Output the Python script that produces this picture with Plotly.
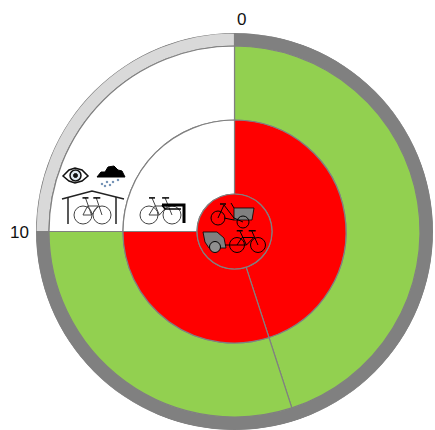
import plotly.graph_objects as go

W, H = 435, 430
CX, CY, R = 234.5, 231.5, 198.5

PERIOD = 40 / 3  # scale units for one full turn
segment_start = [0, 10, 0, 6, 10, 0, 6, 10, 0]
segment_end = [10, 40 / 3, 6, 10, 40 / 3, 6, 10, 40 / 3, 40 / 3]
ring_inner = [185.5, 185.5, 111.5, 111.5, 111.5, 37.5, 37.5, 37.5, 0]
ring_outer = [198.5, 198.5, 185.5, 185.5, 185.5, 111.5, 111.5, 111.5, 37.5]
segment_colors = ["#808080", "#D9D9D9", "#92D050", "#92D050", "#FFFFFF",
                  "#FF0000", "#FF0000", "#FFFFFF", "#FF0000"]
tick_values = [0, 10]
tick_labels = ["0", "10"]

deg = lambda u: u * 360 / PERIOD
theta = [deg((a + b) / 2) for a, b in zip(segment_start, segment_end)]
width = [deg(b - a) for a, b in zip(segment_start, segment_end)]
r = [o - i for i, o in zip(ring_inner, ring_outer)]

fig = go.Figure(go.Barpolar(
    theta=theta, width=width, r=r, base=ring_inner,
    marker=dict(color=segment_colors, line=dict(color="#808080", width=1.2)),
    hoverinfo="skip",
))

shapes = []
px = lambda x: x / W
py = lambda y: 1 - y / H


def path(points, color="black", w=1.0, fill=None, close=False):
    d = "M" + " L".join(f"{px(x):.5f},{py(y):.5f}" for x, y in points) + (" Z" if close else "")
    shapes.append(dict(type="path", xref="paper", yref="paper", path=d,
                       line=dict(color=color, width=w),
                       fillcolor=fill or "rgba(0,0,0,0)", layer="above"))


def circle(x, y, rad, color="black", w=1.0, fill=None):
    shapes.append(dict(type="circle", xref="paper", yref="paper",
                       x0=px(x - rad), x1=px(x + rad), y0=py(y + rad), y1=py(y - rad),
                       line=dict(color=color, width=w),
                       fillcolor=fill or "rgba(0,0,0,0)", layer="above"))


def bike(x0, x1, y, rad, color="#404040"):
    """Bicycle with its wheels centred at (x0, y) and (x1, y)."""
    d = x1 - x0
    circle(x0, y, rad, color=color, w=1)
    circle(x1, y, rad, color=color, w=1)
    seat = (x0 + 0.13 * d, y - 1.9 * rad)
    bar = (x0 + 0.70 * d, y - 1.9 * rad)
    b = (x0 + 0.45 * d, y)
    s = (x0 + 0.24 * d, y - 1.0 * rad)
    h = (x0 + 0.80 * d, y - 1.0 * rad)
    path([seat, b], color=color, w=1)
    path([(x0, y), s, h, b, (x0, y)], color=color, w=1)
    path([bar, (x1, y)], color=color, w=1)
    path([(seat[0] - 3, seat[1]), (seat[0] + 3, seat[1])], color="black", w=1.5)
    path([(bar[0] - 3, bar[1]), (bar[0] + 4, bar[1])], color="black", w=1.5)


# eye
path([(63, 176), (69, 170), (75, 168), (82, 170), (88, 176), (82, 181), (75, 183), (69, 181)],
     color="#111111", w=1.5, close=True, fill="#FFFFFF")
circle(75.5, 175.5, 5.5, color="#111111", w=1.5, fill="#DDE6EE")
circle(75.5, 175.5, 2, color="#111111", w=1, fill="#111111")

# cloud with rain
path([(97, 177), (101, 172), (105, 172), (108, 167), (114, 166), (118, 170), (122, 171), (125, 177)],
     color="black", w=1, fill="black", close=True)
for dx, dy in [(102, 184), (107, 182), (113, 182), (118, 180), (105, 186), (110, 185)]:
    circle(dx, dy, 0.9, color="#5A7FA8", w=0.5, fill="#5A7FA8")

# shelter with bicycle
path([(62, 199), (92, 191), (124, 199)], color="#222222", w=1.5)
path([(68, 197), (68, 224)], color="#222222", w=1.5)
path([(116, 197), (116, 224)], color="#222222", w=1.5)
bike(83, 102, 215, 9, color="#444444")

# bicycle with lock
bike(149, 172, 215, 9, color="#444444")
path([(162, 205), (184, 205), (184, 223)], color="black", w=3)
path([(162, 205), (165, 209), (181, 209)], color="black", w=1.5)

# centre: cargo bike
path([(234, 208), (254, 208), (252, 220), (234, 220)], color="black", w=0.8, fill="#808080", close=True)
circle(218, 218, 7, color="black", w=1)
circle(243, 222, 6, color="black", w=1)
path([(218, 218), (224, 205), (234, 218), (243, 222)], color="black", w=1)
path([(224, 218), (234, 220)], color="black", w=1)
path([(220, 204), (226, 204)], color="black", w=1.5)
path([(231, 203), (234, 208)], color="black", w=1)

# centre: trailer and bicycle
path([(203, 232), (217, 232), (224, 238), (226, 248), (209, 248), (205, 242)],
     color="black", w=0.8, fill="#808080", close=True)
circle(215, 247, 5.5, color="black", w=1, fill="#909090")
path([(225, 245), (237, 245)], color="black", w=1)
bike(237, 258, 245, 7.5, color="black")

annotations = [
    dict(x=px(241), y=py(20), text=tick_labels[0]),
    dict(x=px(19), y=py(232), text=tick_labels[1]),
]
for a in annotations:
    a.update(xref="paper", yref="paper", showarrow=False, xanchor="center", yanchor="middle",
             font=dict(family="Liberation Sans, Arial, sans-serif", size=17, color="#111111"))

fig.update_layout(
    width=W, height=H, autosize=False,
    margin=dict(l=0, r=0, t=0, b=0),
    paper_bgcolor="white", showlegend=False,
    shapes=shapes, annotations=annotations,
    polar=dict(
        domain=dict(x=[(CX - R) / W, (CX + R) / W], y=[1 - (CY + R) / H, 1 - (CY - R) / H]),
        bgcolor="white", barmode="overlay",
        radialaxis=dict(range=[0, R], visible=False),
        angularaxis=dict(direction="clockwise", rotation=90, showgrid=False,
                         showline=False, ticks="", showticklabels=False,
                         tickmode="array", tickvals=[deg(v) for v in tick_values]),
    ),
)
fig.write_html("out.html", config=dict(displayModeBar=False),
               post_script="document.body.style.margin='0';document.documentElement.style.overflow='hidden';")
